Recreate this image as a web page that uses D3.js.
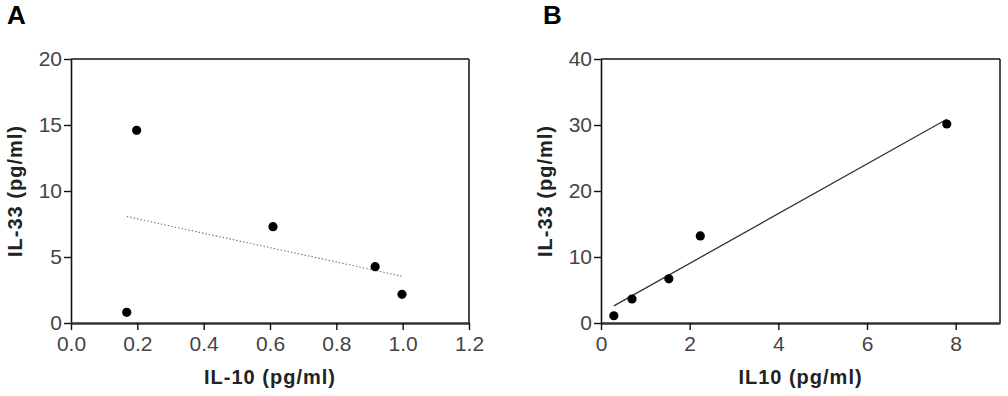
<!DOCTYPE html>
<html>
<head>
<meta charset="utf-8">
<script src="https://cdn.jsdelivr.net/npm/d3@7"></script>
<style>
    body { margin: 0; background: #fff; }
    svg { display: block; font-family: "Liberation Sans", Arial, sans-serif; }
</style>
</head>
<body>
<svg id="chart" width="1008" height="396"></svg>
<script>
// panel A values
const aIL10 = [0.168, 0.198, 0.609, 0.917, 0.998];
const aIL33 = [0.81, 14.6, 7.3, 4.27, 2.17];
const aXTicks = [0, 0.2, 0.4, 0.6, 0.8, 1.0, 1.2];
const aYTicks = [0, 5, 10, 15, 20];

// panel B values
const bIL10 = [0.29, 0.70, 1.53, 2.24, 7.80];
const bIL33 = [1.1, 3.64, 6.7, 13.2, 30.15];
const bXTicks = [0, 2, 4, 6, 8];
const bYTicks = [0, 10, 20, 30, 40];

let svg = d3.select("#chart");

// least squares fit, returns [slope, intercept]
function linFit(xs, ys) {
    let mx = d3.mean(xs), my = d3.mean(ys);
    let sxy = d3.sum(xs, (x, i) => (x - mx) * (ys[i] - my));
    let sxx = d3.sum(xs, (x) => (x - mx) * (x - mx));
    let slope = sxy / sxx;
    return [slope, my - slope * mx];
}

function scatterPanel(opts) {
    let g = svg.append("g");

    let x = d3.scaleLinear().domain(opts.xDomain).range([opts.left, opts.right]);
    let y = d3.scaleLinear().domain(opts.yDomain).range([opts.bottom, opts.top]);

    // top and right frame lines
    g.append("line")
        .attr("x1", x(opts.xDomain[0])).attr("x2", x(opts.xDomain[1]))
        .attr("y1", y(opts.yDomain[1])).attr("y2", y(opts.yDomain[1]))
        .attr("stroke", "#111").attr("stroke-width", 1.5);
    g.append("line")
        .attr("x1", x(opts.xDomain[1])).attr("x2", x(opts.xDomain[1]))
        .attr("y1", y(opts.yDomain[1])).attr("y2", y(opts.yDomain[0]))
        .attr("stroke", "#111").attr("stroke-width", 1.5);

    let yAxis = d3.axisLeft(y).tickValues(opts.yTicks).tickFormat(d3.format("d"))
        .tickSizeInner(7).tickSizeOuter(0).tickPadding(2);
    let gy = g.append("g").attr("transform", `translate(${opts.left},0)`).call(yAxis);
    gy.select(".domain").attr("stroke", "#111").attr("stroke-width", 1.6);
    gy.selectAll(".tick line").attr("stroke", "#111").attr("stroke-width", 1.4);
    gy.selectAll(".tick text").attr("fill", "#444").attr("font-size", 21)
        .attr("font-family", "Liberation Sans, Arial, sans-serif");

    let xAxis = d3.axisBottom(x).tickValues(opts.xTicks).tickFormat(opts.xFormat)
        .tickSizeInner(7).tickSizeOuter(0).tickPadding(6);
    let gx = g.append("g").attr("transform", `translate(0,${opts.bottom})`).call(xAxis);
    gx.select(".domain").attr("stroke", "#333").attr("stroke-width", 2.6);
    gx.selectAll(".tick line").attr("stroke", "#111").attr("stroke-width", 1.4);
    gx.selectAll(".tick text").attr("fill", "#444").attr("font-size", 21)
        .attr("font-family", "Liberation Sans, Arial, sans-serif");

    // fit line over the data range
    let fit = linFit(opts.xs, opts.ys);
    let ext = d3.extent(opts.xs);
    g.append("line")
        .attr("x1", x(ext[0])).attr("y1", y(fit[0] * ext[0] + fit[1]))
        .attr("x2", x(ext[1])).attr("y2", y(fit[0] * ext[1] + fit[1]))
        .attr("stroke", opts.fitColor)
        .attr("stroke-width", opts.fitWidth)
        .attr("stroke-dasharray", opts.fitDash);

    g.selectAll("circle.pt")
        .data(opts.xs)
        .join("circle")
        .attr("class", "pt")
        .attr("cx", (d) => x(d))
        .attr("cy", (d, i) => y(opts.ys[i]))
        .attr("r", 4.6)
        .attr("fill", "#000");

    // axis titles
    g.append("text")
        .attr("x", (opts.left + opts.right) / 2)
        .attr("y", 384)
        .attr("text-anchor", "middle")
        .attr("font-size", 20).attr("font-weight", "bold")
        .attr("letter-spacing", 1).attr("fill", "#222")
        .text(opts.xTitle);

    g.append("text")
        .attr("transform", `translate(${opts.left - 49},${(opts.top + opts.bottom) / 2}) rotate(-90)`)
        .attr("text-anchor", "middle")
        .attr("font-size", 20).attr("font-weight", "bold")
        .attr("letter-spacing", 1).attr("fill", "#222")
        .text(opts.yTitle);

    // panel letter
    g.append("text")
        .attr("x", opts.letterX).attr("y", 24)
        .attr("font-size", 26).attr("font-weight", "bold").attr("fill", "#000")
        .text(opts.letter);
}

scatterPanel({
    letter: "A", letterX: 7,
    left: 71, right: 469, top: 59, bottom: 323,
    xDomain: [0, 1.2], yDomain: [0, 20],
    xTicks: aXTicks, yTicks: aYTicks, xFormat: d3.format(".1f"),
    xs: aIL10, ys: aIL33,
    fitColor: "#777", fitWidth: 1.1, fitDash: "1.5,2",
    xTitle: "IL-10 (pg/ml)", yTitle: "IL-33 (pg/ml)"
});

scatterPanel({
    letter: "B", letterX: 543,
    left: 601, right: 1000, top: 59, bottom: 323,
    xDomain: [0, 9], yDomain: [0, 40],
    xTicks: bXTicks, yTicks: bYTicks, xFormat: d3.format("d"),
    xs: bIL10, ys: bIL33,
    fitColor: "#333", fitWidth: 1.3, fitDash: null,
    xTitle: "IL10 (pg/ml)", yTitle: "IL-33 (pg/ml)"
});
</script>
</body>
</html>
